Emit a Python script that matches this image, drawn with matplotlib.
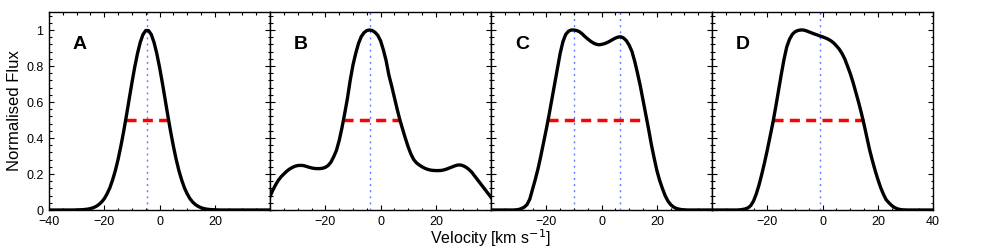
import numpy as np
import matplotlib.pyplot as plt
from matplotlib.ticker import MultipleLocator

plt.rcParams['font.family'] = ['Liberation Sans', 'DejaVu Sans']

# --------------------------------------------------
# DATA (1 km/s steps)
# --------------------------------------------------

velocity = np.arange(-40, 41, 1)

flux_a = [0, 0, 0, 0, 0, 0, 0, 0, 0, 0,
          0.0006, 0.001, 0.0018, 0.003, 0.005, 0.008, 0.0127, 0.0197, 0.030, 0.044,
          0.063, 0.090, 0.123, 0.167, 0.219, 0.282, 0.355, 0.436, 0.524, 0.616,
          0.707, 0.793, 0.869, 0.931, 0.975, 0.997, 0.997, 0.975, 0.931, 0.869,
          0.793, 0.707, 0.616, 0.524, 0.436, 0.355, 0.282, 0.219, 0.167, 0.123,
          0.090, 0.063, 0.044, 0.030, 0.020, 0.013, 0.008, 0.005, 0.003, 0.002,
          0.001, 0.0006, 0, 0, 0, 0, 0, 0, 0, 0,
          0, 0, 0, 0, 0, 0, 0, 0, 0, 0,
          0]

flux_b = [0.076, 0.11, 0.14, 0.165, 0.185, 0.20, 0.215, 0.227, 0.236, 0.243,
          0.247, 0.248, 0.247, 0.243, 0.238, 0.234, 0.231, 0.23, 0.23, 0.232,
          0.237, 0.247, 0.265, 0.295, 0.33, 0.385, 0.455, 0.535, 0.62, 0.72,
          0.805, 0.87, 0.925, 0.963, 0.985, 0.997, 1.0, 0.997, 0.987, 0.97,
          0.94, 0.89, 0.83, 0.75, 0.69, 0.625, 0.56, 0.50, 0.448, 0.397,
          0.35, 0.31, 0.28, 0.262, 0.25, 0.24, 0.232, 0.226, 0.222, 0.22,
          0.219, 0.219, 0.22, 0.223, 0.228, 0.234, 0.24, 0.246, 0.25, 0.25,
          0.245, 0.237, 0.225, 0.21, 0.19, 0.17, 0.15, 0.13, 0.11, 0.09,
          0.07]

flux_c = [0, 0, 0, 0, 0, 0, 0, 0, 0, 0.001,
          0.003, 0.008, 0.016, 0.03, 0.06, 0.115, 0.17, 0.23, 0.30, 0.375,
          0.45, 0.53, 0.615, 0.70, 0.785, 0.87, 0.935, 0.975, 0.993, 1.0,
          1.0, 0.997, 0.99, 0.978, 0.963, 0.95, 0.938, 0.928, 0.921, 0.918,
          0.92, 0.924, 0.93, 0.938, 0.947, 0.955, 0.961, 0.962, 0.955, 0.94,
          0.915, 0.88, 0.825, 0.76, 0.69, 0.61, 0.53, 0.45, 0.365, 0.29,
          0.22, 0.165, 0.12, 0.08, 0.05, 0.03, 0.017, 0.009, 0.005, 0.002,
          0.001, 0, 0, 0, 0, 0, 0, 0, 0, 0,
          0]

flux_d = [0, 0, 0, 0, 0, 0, 0, 0, 0, 0,
          0.001, 0.003, 0.006, 0.012, 0.025, 0.05, 0.09, 0.14, 0.20, 0.265,
          0.335, 0.41, 0.485, 0.57, 0.66, 0.75, 0.835, 0.905, 0.948, 0.975,
          0.99, 0.997, 1.0, 1.0, 0.996, 0.99, 0.984, 0.978, 0.973, 0.967,
          0.962, 0.956, 0.949, 0.94, 0.928, 0.912, 0.894, 0.87, 0.84, 0.80,
          0.758, 0.71, 0.655, 0.60, 0.54, 0.475, 0.405, 0.335, 0.275, 0.22,
          0.17, 0.125, 0.088, 0.057, 0.04, 0.025, 0.014, 0.007, 0.003, 0.001,
          0, 0, 0, 0, 0, 0, 0, 0, 0, 0,
          0]

panel_labels = ["A", "B", "C", "D"]
peak_lines = [[-4.6], [-3.8], [-9.85, 6.7], [-1.0]]
fwhm_left = [-12.3, -13.5, -19.3, -17.8]
fwhm_right = [3.2, 7.1, 16.5, 14.8]

# --------------------------------------------------
# PLOT
# --------------------------------------------------

fig = plt.figure(figsize=(9.81, 2.49), dpi=100)

left, bottom, width, height = 0.05, 0.1566, 0.2253, 0.7952
profiles = [flux_a, flux_b, flux_c, flux_d]

for i, flux in enumerate(profiles):
    ax = fig.add_axes([left + i * width, bottom, width, height])

    for v in peak_lines[i]:
        ax.axvline(v, color="#5b78ff", lw=1.0, ls=(0, (1.4, 3.0)), zorder=1)
    ax.plot([fwhm_left[i], fwhm_right[i]], [0.5, 0.5], color="red",
            lw=2.5, ls=(0, (2.9, 1.8)), zorder=2)
    ax.plot(velocity, flux, color="black", lw=2.4, zorder=3,
            solid_joinstyle="round")

    ax.text(-28.8, 0.92, panel_labels[i], fontsize=14, fontweight="bold",
            ha="center", va="center")

    ax.set_xlim(-40, 40)
    ax.set_ylim(0, 1.1)
    ax.xaxis.set_major_locator(MultipleLocator(20))
    ax.xaxis.set_minor_locator(MultipleLocator(5))
    ax.yaxis.set_major_locator(MultipleLocator(0.2))
    ax.yaxis.set_minor_locator(MultipleLocator(0.04))
    ax.tick_params(which="both", direction="in", top=True, right=True,
                   labelsize=9, width=0.8)
    ax.tick_params(axis="x", which="major", pad=4.5)
    ax.tick_params(axis="y", which="major", pad=4)
    ax.tick_params(which="major", length=3.5)
    ax.tick_params(which="minor", length=1.8)
    for s in ax.spines.values():
        s.set_linewidth(1.0)

    ticks = [-20, 0, 20]
    if i == 0:
        ticks = [-40] + ticks
    if i == 3:
        ticks = ticks + [40]
    ax.set_xticks(ticks)
    ax.set_xticklabels([str(t).replace("-", "\u2212") for t in ticks])

    if i == 0:
        ax.set_yticks([0, 0.2, 0.4, 0.6, 0.8, 1.0])
        ax.set_yticklabels(["0", "0.2", "0.4", "0.6", "0.8", "1"])
        ax.set_ylabel("Normalised Flux", fontsize=12, labelpad=3)
    else:
        ax.set_yticklabels([])

fig.text(left + 2 * width, 0.0, "Velocity [km s$^{-1}$]", ha="center",
         va="bottom", fontsize=11.5)

fig.savefig("out.png", dpi=100)
plt.close(fig)
